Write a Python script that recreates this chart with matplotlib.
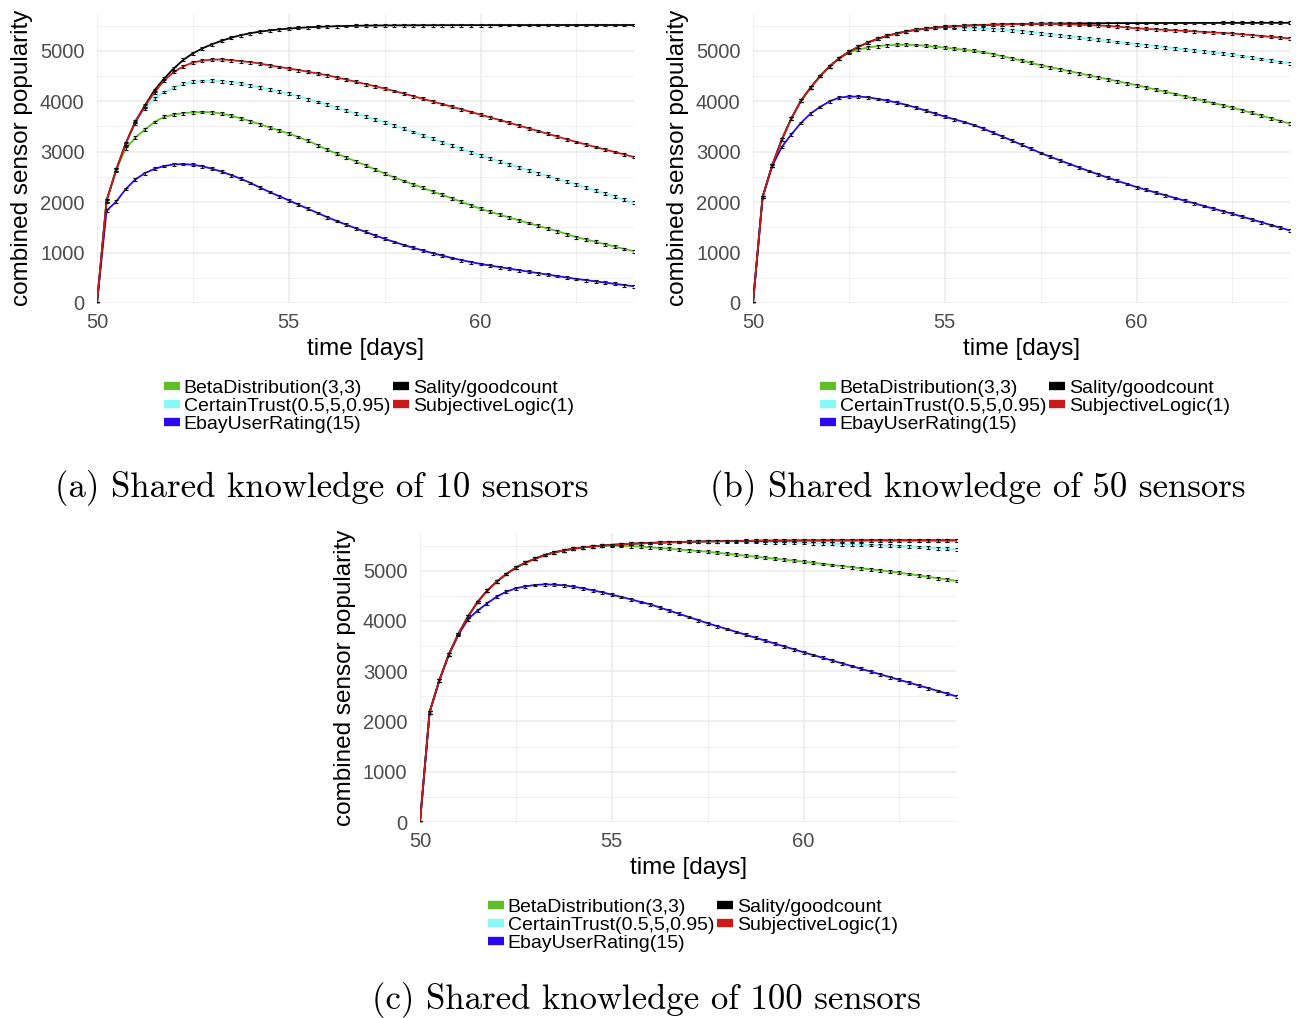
import numpy as np
import matplotlib
matplotlib.use("Agg")
import matplotlib.pyplot as plt
from matplotlib.lines import Line2D
from matplotlib.ticker import MultipleLocator

# time axis: every 6 hours from day 50 to day 64
days = np.arange(50, 64.001, 0.25)

series_names = ["BetaDistribution(3,3)", "CertainTrust(0.5,5,0.95)", "EbayUserRating(15)",
                "Sality/goodcount", "SubjectiveLogic(1)"]
series_colors = ["#5ec024", "#86f8f8", "#2a08f0", "#000000", "#cc1a1a"]

captions = ["(a) Shared knowledge of 10 sensors",
            "(b) Shared knowledge of 50 sensors",
            "(c) Shared knowledge of 100 sensors"]

# ---- (a) 10 sensors ----
a_beta = [0, 2030, 2640, 3060,
          3280, 3440, 3590, 3690,
          3735, 3765, 3780, 3787,
          3780, 3755, 3715, 3660,
          3605, 3545, 3480, 3420,
          3360, 3290, 3215, 3130,
          3040, 2962, 2885, 2808,
          2730, 2650, 2565, 2490,
          2420, 2350, 2282, 2213,
          2145, 2075, 2005, 1937,
          1868, 1810, 1752, 1695,
          1640, 1585, 1530, 1478,
          1425, 1365, 1305, 1258,
          1212, 1165, 1118, 1072,
          1026]
a_certain = [0, 2020, 2630, 3140,
             3560, 3860, 4060, 4185,
             4270, 4345, 4385, 4402,
             4405, 4398, 4380, 4352,
             4315, 4275, 4235, 4192,
             4150, 4097, 4042, 3987,
             3930, 3873, 3815, 3758,
             3700, 3643, 3585, 3520,
             3455, 3389, 3323, 3256,
             3190, 3124, 3057, 2991,
             2925, 2866, 2808, 2749,
             2690, 2632, 2575, 2517,
             2460, 2405, 2350, 2290,
             2230, 2169, 2108, 2046,
             1985]
a_ebay = [0, 1830, 2010, 2260,
          2450, 2575, 2660, 2715,
          2748, 2755, 2740, 2710,
          2662, 2603, 2536, 2464,
          2380, 2288, 2200, 2118,
          2035, 1950, 1868, 1785,
          1702, 1625, 1552, 1480,
          1410, 1340, 1272, 1210,
          1150, 1093, 1040, 988,
          940, 893, 850, 811,
          775, 743, 712, 681,
          651, 621, 592, 563,
          534, 505, 477, 453,
          429, 404, 380, 355,
          331]
a_sality = [0, 2030, 2640, 3170,
            3600, 3920, 4220, 4450,
            4650, 4820, 4950, 5050,
            5130, 5200, 5260, 5310,
            5350, 5380, 5405, 5425,
            5440, 5455, 5465, 5475,
            5482, 5488, 5493, 5497,
            5500, 5502, 5504, 5505,
            5506, 5507, 5508, 5508,
            5509, 5509, 5510, 5510,
            5510, 5510, 5511, 5511,
            5511, 5511, 5511, 5512,
            5512, 5512, 5512, 5512,
            5512, 5512, 5512, 5512,
            5512]
a_subj = [0, 2030, 2640, 3160,
          3590, 3900, 4180, 4410,
          4580, 4690, 4770, 4805,
          4825, 4828, 4815, 4795,
          4775, 4748, 4712, 4680,
          4650, 4618, 4585, 4550,
          4517, 4473, 4430, 4385,
          4340, 4297, 4252, 4202,
          4152, 4100, 4048, 3996,
          3944, 3892, 3840, 3788,
          3735, 3681, 3627, 3573,
          3519, 3464, 3410, 3355,
          3301, 3246, 3192, 3142,
          3092, 3043, 2993, 2944,
          2894]

# ---- (b) 50 sensors ----
b_beta = [0, 2100, 2730, 3240,
          3660, 4010, 4270, 4500,
          4690, 4845, 4965, 5026,
          5066, 5093, 5110, 5118,
          5119, 5114, 5100, 5080,
          5062, 5042, 5021, 4999,
          4975, 4935, 4893, 4850,
          4806, 4761, 4715, 4675,
          4635, 4595, 4555, 4515,
          4475, 4436, 4397, 4357,
          4318, 4275, 4232, 4189,
          4145, 4100, 4055, 4010,
          3965, 3920, 3874, 3823,
          3770, 3716, 3663, 3610,
          3556]
b_certain = [0, 2100, 2730, 3240,
             3660, 4010, 4270, 4500,
             4695, 4855, 4980, 5080,
             5165, 5238, 5298, 5345,
             5385, 5417, 5440, 5458,
             5465, 5455, 5450, 5445,
             5438, 5430, 5418, 5405,
             5390, 5370, 5345, 5325,
             5304, 5283, 5262, 5240,
             5218, 5197, 5175, 5154,
             5132, 5112, 5091, 5071,
             5050, 5030, 5009, 4989,
             4968, 4948, 4927, 4897,
             4867, 4838, 4808, 4778,
             4748]
b_ebay = [0, 2100, 2715, 3093,
          3344, 3570, 3755, 3887,
          4000, 4073, 4093, 4093,
          4079, 4046, 4013, 3974,
          3927, 3874, 3815, 3755,
          3695, 3642, 3589, 3530,
          3460, 3380, 3300, 3220,
          3138, 3056, 2974, 2900,
          2828, 2757, 2687, 2618,
          2550, 2486, 2422, 2360,
          2298, 2243, 2189, 2135,
          2082, 2029, 1977, 1924,
          1872, 1820, 1768, 1713,
          1658, 1602, 1547, 1492,
          1437]
b_sality = [0, 2100, 2730, 3240,
            3660, 4010, 4270, 4500,
            4695, 4855, 4980, 5080,
            5165, 5238, 5298, 5345,
            5385, 5417, 5440, 5460,
            5475, 5488, 5498, 5506,
            5513, 5519, 5524, 5528,
            5532, 5535, 5538, 5540,
            5542, 5544, 5545, 5546,
            5547, 5548, 5549, 5550,
            5550, 5551, 5551, 5552,
            5552, 5552, 5553, 5553,
            5553, 5554, 5554, 5554,
            5554, 5555, 5555, 5555,
            5555]
b_subj = [0, 2100, 2730, 3240,
          3660, 4010, 4270, 4500,
          4695, 4855, 4980, 5080,
          5165, 5238, 5298, 5345,
          5385, 5417, 5440, 5460,
          5475, 5488, 5498, 5505,
          5512, 5518, 5524, 5528,
          5532, 5535, 5536, 5535,
          5532, 5527, 5520, 5512,
          5503, 5492, 5480, 5463,
          5445, 5435, 5425, 5415,
          5405, 5395, 5385, 5375,
          5364, 5354, 5344, 5328,
          5311, 5295, 5278, 5262,
          5245]

# ---- (c) 100 sensors ----
c_beta = [0, 2185, 2808, 3331,
          3742, 4086, 4377, 4603,
          4781, 4934, 5060, 5159,
          5238, 5311, 5364, 5404,
          5437, 5464, 5483, 5492,
          5495, 5493, 5488, 5479,
          5465, 5451, 5436, 5421,
          5406, 5392, 5377, 5357,
          5337, 5317, 5298, 5278,
          5258, 5238, 5218, 5199,
          5179, 5157, 5135, 5113,
          5091, 5069, 5047, 5026,
          5004, 4982, 4960, 4933,
          4905, 4878, 4850, 4823,
          4795]
c_certain = [0, 2185, 2808, 3331,
             3742, 4086, 4377, 4603,
             4781, 4934, 5060, 5159,
             5238, 5311, 5364, 5404,
             5437, 5464, 5483, 5500,
             5513, 5525, 5535, 5544,
             5552, 5559, 5565, 5570,
             5575, 5579, 5583, 5583,
             5581, 5579, 5576, 5572,
             5568, 5564, 5560, 5556,
             5552, 5546, 5541, 5535,
             5529, 5523, 5517, 5510,
             5504, 5498, 5492, 5481,
             5470, 5459, 5448, 5436,
             5424]
c_ebay = [0, 2185, 2808, 3325,
          3722, 4033, 4205, 4351,
          4483, 4583, 4649, 4689,
          4715, 4728, 4722, 4709,
          4682, 4649, 4609, 4570,
          4523, 4477, 4430, 4377,
          4331, 4268, 4206, 4143,
          4080, 4017, 3954, 3896,
          3839, 3781, 3723, 3666,
          3608, 3550, 3492, 3435,
          3377, 3322, 3267, 3212,
          3157, 3103, 3048, 2993,
          2938, 2883, 2828, 2773,
          2718, 2663, 2608, 2552,
          2497]
c_sality = [0, 2185, 2808, 3331,
            3742, 4086, 4377, 4603,
            4781, 4934, 5060, 5159,
            5238, 5311, 5364, 5404,
            5437, 5464, 5483, 5500,
            5513, 5525, 5535, 5544,
            5552, 5559, 5565, 5570,
            5575, 5579, 5583, 5586,
            5589, 5591, 5593, 5595,
            5597, 5598, 5599, 5600,
            5601, 5602, 5602, 5603,
            5603, 5603, 5604, 5604,
            5604, 5604, 5605, 5605,
            5605, 5605, 5605, 5605,
            5605]
c_subj = [0, 2185, 2808, 3331,
          3742, 4086, 4377, 4603,
          4781, 4934, 5060, 5159,
          5238, 5311, 5364, 5404,
          5437, 5464, 5483, 5500,
          5513, 5525, 5535, 5544,
          5552, 5559, 5565, 5570,
          5575, 5579, 5583, 5586,
          5589, 5591, 5593, 5595,
          5597, 5598, 5599, 5600,
          5601, 5601, 5601, 5602,
          5602, 5602, 5602, 5602,
          5602, 5601, 5601, 5601,
          5601, 5600, 5600, 5600,
          5600]

# small spread of the repeated runs (error bar half height)
err_halfwidth = 28

panels = [
    [a_beta, a_certain, a_ebay, a_sality, a_subj],
    [b_beta, b_certain, b_ebay, b_sality, b_subj],
    [c_beta, c_certain, c_ebay, c_sality, c_subj],
]

W, H = 1296, 1018
fig = plt.figure(figsize=(W / 100, H / 100), dpi=100)

TXT = "Liberation Sans"
# axes boxes in pixels: left, top, right, bottom
boxes = [(97, 13, 634, 303), (753, 13, 1290, 303), (420, 533, 957, 822)]
legend_pos = [(164, 379), (820, 379), (488, 898)]
caption_pos = [(322, 488), (978, 488), (646, 1000)]

for k, (l, t, r, b) in enumerate(boxes):
    ax = fig.add_axes([l / W, 1 - b / H, (r - l) / W, (b - t) / H])
    data = panels[k]
    for vals, col in zip(data, series_colors):
        assert len(vals) == len(days)
        ax.plot(days, vals, color=col, lw=1.3, zorder=3)
    for vals in data:
        ax.errorbar(days, vals, yerr=err_halfwidth, fmt="none", ecolor="#111111",
                    elinewidth=0.8, capsize=1.3, capthick=0.8, zorder=4)

    ax.set_xlim(50, 64)
    ax.set_ylim(0, 5750)
    ax.xaxis.set_major_locator(MultipleLocator(5))
    ax.xaxis.set_minor_locator(MultipleLocator(2.5))
    ax.yaxis.set_major_locator(MultipleLocator(1000))
    ax.yaxis.set_minor_locator(MultipleLocator(500))
    ax.grid(which="major", color="#ebebeb", lw=1.1, zorder=0)
    ax.grid(which="minor", color="#ebebeb", lw=0.55, zorder=0)
    for s in ax.spines.values():
        s.set_visible(False)
    ax.tick_params(which="both", length=0)
    ax.tick_params(axis="y", pad=9, labelsize=14.5, labelcolor="#4d4d4d")
    ax.tick_params(axis="x", pad=7, labelsize=14.5, labelcolor="#4d4d4d")
    for lab in ax.get_xticklabels() + ax.get_yticklabels():
        lab.set_family(TXT)

    ax.set_xlabel("time [days]", family=TXT, fontsize=17.5)
    ax.set_ylabel("combined sensor popularity", family=TXT, fontsize=17.5)
    ax.xaxis.set_label_coords(0.5, -46 / (b - t))
    ax.xaxis.label.set_va("center")
    ax.yaxis.set_label_coords(-75 / (r - l), 0.5)
    ax.yaxis.label.set_va("center")

    handles = [Line2D([], [], color=c, lw=6, solid_capstyle="butt") for c in series_colors]
    lx, ly = legend_pos[k]
    fig.legend(handles, series_names, loc="upper left", bbox_to_anchor=(lx / W, 1 - ly / H),
               ncol=2, frameon=False, prop={"family": TXT, "size": 14},
               handlelength=0.82, handletextpad=0.2, columnspacing=0.15,
               labelspacing=0.02, borderpad=0, borderaxespad=0)

    cx, cy = caption_pos[k]
    fig.text(cx / W, 1 - cy / H, captions[k], ha="center", va="center",
             family="cmr10", fontsize=25)

fig.savefig("out.png", dpi=100, facecolor="white")
